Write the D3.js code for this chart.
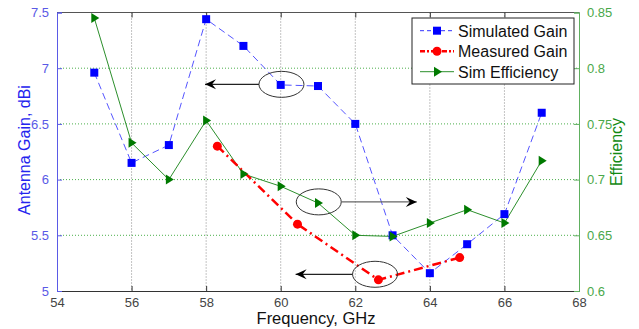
<!DOCTYPE html>
<html>
<head>
<meta charset="utf-8">
<script src="https://cdn.jsdelivr.net/npm/d3@7"></script>
<style>
  body { margin: 0; background: #fff; }
  svg { display: block; font-family: "Liberation Sans", Arial, sans-serif; }
</style>
</head>
<body>
<div id="chart"></div>
<script>
// data
const simFreq = [55, 56, 57, 58, 59, 60, 61, 62, 63, 64, 65, 66, 67];
const simGain = [6.96, 6.15, 6.31, 7.44, 7.2, 6.85, 6.84, 6.5, 5.5, 5.16, 5.42, 5.69, 6.6];
const measFreq = [58.3, 60.45, 62.62, 64.8];
const measGain = [6.3, 5.6, 5.1, 5.3];
const effFreq = [55, 56, 57, 58, 59, 60, 61, 62, 63, 64, 65, 66, 67];
const simEff = [0.845, 0.733, 0.70, 0.753, 0.705, 0.694, 0.679, 0.65, 0.649, 0.661, 0.673, 0.661, 0.717];

const xTicks = [54, 56, 58, 60, 62, 64, 66, 68];
const gainTicks = [5, 5.5, 6, 6.5, 7, 7.5];
const effTicks = [0.6, 0.65, 0.7, 0.75, 0.8, 0.85];
const legendLabels = ['Simulated Gain', 'Measured Gain', 'Sim Efficiency'];

// annotation ellipses: centre in (GHz, dBi), arrow tip in GHz
const noteCx = [60.02, 61.02, 62.53];
const noteCy = [6.855, 5.8, 5.15];
const noteTip = [57.97, 63.65, 60.4];
const noteSide = [-1, 1, -1];

const W = 639, H = 329;
const margin = { top: 12.5, right: 60, bottom: 38, left: 57 };
const width = W - margin.left - margin.right;
const height = H - margin.top - margin.bottom;

const x = d3.scaleLinear().domain([54, 68]).range([0, width]);
const yG = d3.scaleLinear().domain([5, 7.5]).range([height, 0]);
const yE = d3.scaleLinear().domain([0.6, 0.85]).range([height, 0]);

const svg = d3.select('#chart').append('svg')
  .attr('width', W).attr('height', H);
const g = svg.append('g')
  .attr('transform', `translate(${margin.left},${margin.top})`);

// grid
g.append('g').selectAll('line').data(xTicks.slice(1, -1)).join('line')
  .attr('x1', d => x(d)).attr('x2', d => x(d))
  .attr('y1', 0).attr('y2', height)
  .attr('stroke', '#888').attr('stroke-width', 1).attr('stroke-dasharray', '1,2');
g.append('g').selectAll('line').data(effTicks.slice(1, -1)).join('line')
  .attr('x1', 0).attr('x2', width)
  .attr('y1', d => yE(d)).attr('y2', d => yE(d))
  .attr('stroke', '#4caf4c').attr('stroke-width', 1).attr('stroke-dasharray', '1,2');

// frame top
g.append('line').attr('x1', 0).attr('x2', width).attr('y1', 0).attr('y2', 0)
  .attr('stroke', '#555').attr('stroke-width', 1);

// axes
const xAxis = g.append('g').attr('transform', `translate(0,${height})`)
  .call(d3.axisBottom(x).tickValues(xTicks).tickSize(-5).tickPadding(7).tickFormat(d3.format('d')));
xAxis.select('.domain').attr('stroke', '#333');
xAxis.selectAll('line').attr('stroke', '#333');
xAxis.selectAll('text').attr('fill', '#444').attr('font-size', 13);

const xTop = g.append('g')
  .call(d3.axisTop(x).tickValues(xTicks).tickSize(-5).tickFormat(''));
xTop.select('.domain').remove();
xTop.selectAll('line').attr('stroke', '#333');

const yLeft = g.append('g')
  .call(d3.axisLeft(yG).tickValues(gainTicks).tickSize(-5).tickPadding(8).tickFormat(d3.format('')));
yLeft.select('.domain').attr('stroke', '#5a5ae6');
yLeft.selectAll('line').attr('stroke', '#5a5ae6');
yLeft.selectAll('text').attr('fill', '#5a5ae6').attr('font-size', 13);

const yRight = g.append('g').attr('transform', `translate(${width},0)`)
  .call(d3.axisRight(yE).tickValues(effTicks).tickSize(-5).tickPadding(8).tickFormat(d3.format('')));
yRight.select('.domain').attr('stroke', '#60b060');
yRight.selectAll('line').attr('stroke', '#60b060');
yRight.selectAll('text').attr('fill', '#4aa84a').attr('font-size', 13);

// axis titles
svg.append('text')
  .attr('transform', 'translate(30,150) rotate(-90)')
  .attr('text-anchor', 'middle').attr('fill', '#2323ee').attr('font-size', 16)
  .text('Antenna Gain, dBi');
svg.append('text')
  .attr('transform', 'translate(622,152) rotate(-90)')
  .attr('text-anchor', 'middle').attr('fill', '#128a12').attr('font-size', 16)
  .text('Efficiency');
svg.append('text')
  .attr('x', 316).attr('y', 324)
  .attr('text-anchor', 'middle').attr('fill', '#111').attr('font-size', 16.5)
  .text('Frequency, GHz');

// series
const simLine = d3.line().x((d, i) => x(simFreq[i])).y(d => yG(d));
g.append('path').datum(simGain)
  .attr('d', simLine).attr('fill', 'none')
  .attr('stroke', '#5555ff').attr('stroke-width', 1).attr('stroke-dasharray', '7,4');

const effLine = d3.line().x((d, i) => x(effFreq[i])).y(d => yE(d));
g.append('path').datum(simEff)
  .attr('d', effLine).attr('fill', 'none')
  .attr('stroke', '#2c8f2c').attr('stroke-width', 1);

const measLine = d3.line().x((d, i) => x(measFreq[i])).y(d => yG(d));
g.append('path').datum(measGain)
  .attr('d', measLine).attr('fill', 'none')
  .attr('stroke', '#ff0000').attr('stroke-width', 2.5).attr('stroke-dasharray', '9,4,2,4');

// markers
g.append('g').selectAll('rect').data(simGain).join('rect')
  .attr('x', (d, i) => x(simFreq[i]) - 4).attr('y', d => yG(d) - 4)
  .attr('width', 8).attr('height', 8).attr('fill', '#0000ff');

g.append('g').selectAll('path').data(simEff).join('path')
  .attr('transform', (d, i) => `translate(${x(effFreq[i])},${yE(d)})`)
  .attr('d', 'M-3,-5L5,0L-3,5Z').attr('fill', '#007a00');

g.append('g').selectAll('circle').data(measGain).join('circle')
  .attr('cx', (d, i) => x(measFreq[i])).attr('cy', d => yG(d))
  .attr('r', 4.5).attr('fill', '#ff0000');

// annotations
const notes = g.append('g');
noteCx.forEach((cx, i) => {
  const px = x(cx), py = yG(noteCy[i]);
  notes.append('ellipse')
    .attr('cx', px).attr('cy', py).attr('rx', 22.5).attr('ry', 13)
    .attr('fill', 'none').attr('stroke', '#333').attr('stroke-width', 1);
  const tip = x(noteTip[i]);
  const start = px + noteSide[i] * 22.5;
  notes.append('line')
    .attr('x1', start).attr('x2', tip).attr('y1', py).attr('y2', py)
    .attr('stroke', i === 1 ? '#666' : '#222').attr('stroke-width', 1.3);
  const dir = Math.sign(tip - start);
  notes.append('path')
    .attr('d', `M${tip},${py}L${tip - dir * 11},${py - 5}L${tip - dir * 7},${py}L${tip - dir * 11},${py + 5}Z`)
    .attr('fill', '#000');
});

// legend
const lg = svg.append('g').attr('transform', 'translate(412,18)');
lg.append('rect').attr('width', 162).attr('height', 66)
  .attr('fill', '#fff').attr('stroke', '#222').attr('stroke-width', 1);
const legColors = ['#3333ff', '#ff0000', '#2c8f2c'];
const legDash = ['4,3', '5,2,2,2', null];
const legWidth = [1, 2.5, 1];
legendLabels.forEach((label, i) => {
  const yy = 12.7 + i * 20.5;
  lg.append('line').attr('x1', 8).attr('x2', 42).attr('y1', yy).attr('y2', yy)
    .attr('stroke', legColors[i]).attr('stroke-width', legWidth[i])
    .attr('stroke-dasharray', legDash[i]);
  if (i === 0) {
    lg.append('rect').attr('x', 21).attr('y', yy - 4).attr('width', 8).attr('height', 8).attr('fill', '#0000ff');
  } else if (i === 1) {
    lg.append('circle').attr('cx', 25).attr('cy', yy).attr('r', 4.5).attr('fill', '#ff0000');
  } else {
    lg.append('path').attr('transform', `translate(25,${yy})`).attr('d', 'M-3,-5L5,0L-3,5Z').attr('fill', '#007a00');
  }
  lg.append('text').attr('x', 46).attr('y', yy + 6)
    .attr('font-size', 16).attr('fill', '#111').text(label);
});
</script>
</body>
</html>
